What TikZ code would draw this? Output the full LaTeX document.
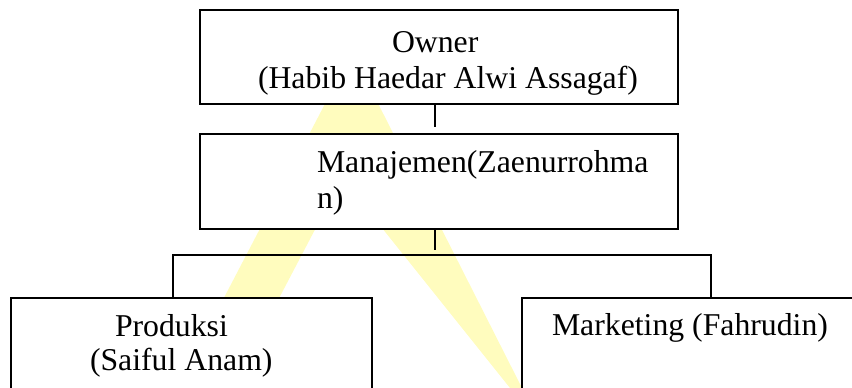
\documentclass[tikz,border=0pt]{standalone}
\usepackage{fontspec}
\setmainfont{Liberation Serif}
\definecolor{wmark}{RGB}{255,252,190}
\tikzset{
  orgbox/.style={draw=black, fill=white, line width=1.5pt, inner sep=0pt},
  lbl/.style={anchor=base west, inner sep=0pt, outer sep=0pt, font=\fontsize{31.75}{36}\selectfont},
  conn/.style={draw=black, line width=1.5pt}
}
\begin{document}
\begin{tikzpicture}[x=1pt, y=-1pt]
\useasboundingbox (0,0) rectangle (852,388);
\clip (0,0) rectangle (852,388);
% watermark
\fill[wmark] (352,52) -- (177,388) -- (232,388) -- (342,178) -- (510,388) -- (522,388) -- cycle;
% boxes
\node[orgbox, minimum width=478pt, minimum height=94pt] (owner) at (439,57) {};
\node[orgbox, minimum width=478pt, minimum height=95pt] (mgmt) at (439,181.5) {};
\node[orgbox, minimum width=361pt, minimum height=122pt] (prod) at (191.5,359) {};
\node[orgbox, minimum width=358pt, minimum height=122pt] (mkt) at (701,359) {};
% connectors
\coordinate (o1) at (435,127);
\coordinate (m1) at (435,250);
\coordinate (bl) at (173,255);
\coordinate (br) at (711,255);
\draw[conn] (owner.south -| o1) -- (o1);
\draw[conn] (mgmt.south -| m1) -- (m1);
\draw[conn] (prod.north -| bl) -- (bl) -- (br) -- (mkt.north -| br);
% texts
\node[lbl] (t1) at (392,52) {Owner};
\node[lbl] (t2) at (258,88) {(Habib Haedar Alwi Assagaf)};
\node[lbl] (t3) at (317,172) {Manajemen(Zaenurrohma};
\node[lbl] (t4) at (317,208) {n)};
\node[lbl] (t5) at (115,336) {Produksi};
\node[lbl] (t6) at (90,370) {(Saiful Anam)};
\node[lbl] (t7) at (552,335) {Marketing (Fahrudin)};
\end{tikzpicture}
\end{document}
